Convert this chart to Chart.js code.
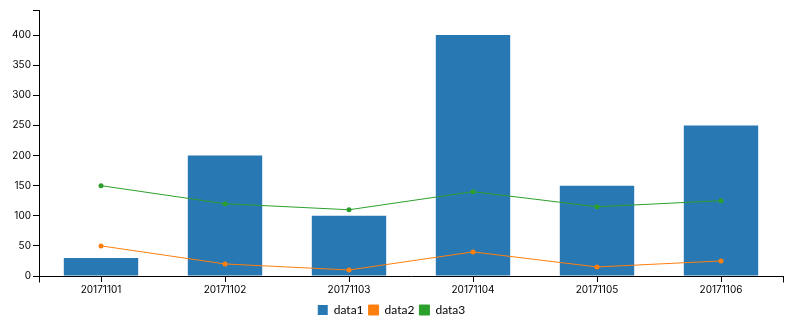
<!DOCTYPE html>
<html>
<head>
<meta charset="utf-8">
<script src="https://cdn.jsdelivr.net/npm/chart.js@4/dist/chart.umd.min.js"></script>
<style>
  html, body { margin: 0; padding: 0; background: #fff; }
  #wrap { width: 790px; height: 323px; }
</style>
</head>
<body>
<div id="wrap"><canvas id="chart" width="790" height="323"></canvas></div>
<script>
// Categories and series
const days = ['20171101', '20171102', '20171103', '20171104', '20171105', '20171106'];
const data1 = [30, 200, 100, 400, 150, 250];
const data2 = [50, 20, 10, 40, 15, 25];
const data3 = [150, 120, 110, 140, 115, 125];

const yMax = 441.67;
const tickFont = { family: "Inter, Lato, sans-serif", size: 10 };

// Outer tick marks at both ends of the x axis
const outerTicks = {
  id: 'outerTicks',
  afterDraw(chart) {
    const { ctx, chartArea } = chart;
    ctx.save();
    ctx.strokeStyle = '#000';
    ctx.lineWidth = 1;
    ctx.beginPath();
    const y = Math.round(chartArea.bottom) + 0.5;
    [chartArea.left, chartArea.right].forEach(x => {
      const px = Math.round(x) + 0.5;
      ctx.moveTo(px, y);
      ctx.lineTo(px, y + 6);
    });
    ctx.stroke();
    ctx.restore();
  }
};

const ctx = document.getElementById('chart').getContext('2d');
new Chart(ctx, {
  data: {
    labels: days,
    datasets: [
      {
        type: 'line',
        label: 'data2',
        data: data2,
        borderColor: '#ff7f0e',
        backgroundColor: '#ff7f0e',
        borderWidth: 1,
        pointRadius: 2.5,
        pointBorderWidth: 0,
        pointHoverRadius: 2.5,
        order: 1
      },
      {
        type: 'line',
        label: 'data3',
        data: data3,
        borderColor: '#2ca02c',
        backgroundColor: '#2ca02c',
        borderWidth: 1,
        pointRadius: 2.5,
        pointBorderWidth: 0,
        pointHoverRadius: 2.5,
        order: 1
      },
      {
        type: 'bar',
        label: 'data1',
        data: data1,
        backgroundColor: '#2878b4',
        borderWidth: 0,
        barPercentage: 0.6,
        categoryPercentage: 1,
        order: 2
      }
    ]
  },
  options: {
    responsive: false,
    animation: false,
    events: [],
    layout: { padding: { left: 0, right: 7, top: 10, bottom: -3 } },
    plugins: {
      tooltip: { enabled: false },
      legend: {
        position: 'bottom',
        labels: {
          boxWidth: 10,
          boxHeight: 10,
          padding: 5,
          color: '#000',
          font: { family: "Lato, 'Open Sans', sans-serif", size: 12 },
          sort: (a, b) => a.text.localeCompare(b.text)
        }
      }
    },
    scales: {
      x: {
        offset: true,
        grid: { offset: false, drawOnChartArea: false, color: '#000', tickLength: 6 },
        border: { display: true, color: '#000' },
        ticks: { color: '#000', font: tickFont, maxRotation: 0, padding: 2 },
        afterFit(scale) { scale.height = 23; }
      },
      y: {
        min: 0,
        max: yMax,
        grid: { drawOnChartArea: false, color: '#000', tickLength: 6 },
        border: { display: true, color: '#000' },
        ticks: {
          stepSize: 50,
          color: '#000',
          font: tickFont,
          padding: 2,
          callback: v => (v % 50 === 0 ? v : '')
        },
        afterFit(scale) { scale.width = 39; }
      }
    }
  },
  plugins: [outerTicks]
});
</script>
</body>
</html>
